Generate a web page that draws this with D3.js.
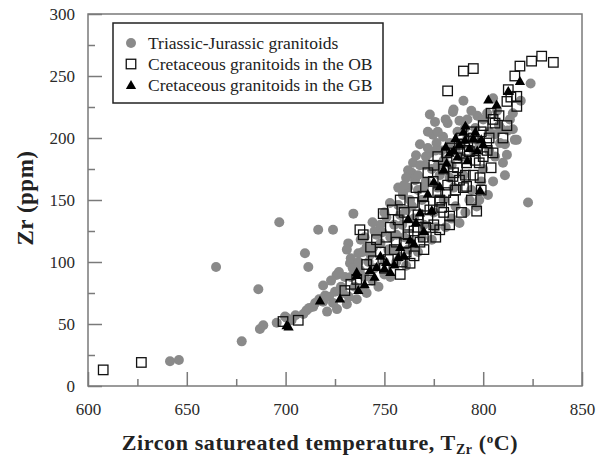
<!DOCTYPE html>
<html>
<head>
<meta charset="utf-8">
<script src="https://d3js.org/d3.v7.min.js"></script>
<style>
  body { margin: 0; background: #fff; }
  svg text { font-family: "Liberation Serif", "Times New Roman", serif; }
</style>
</head>
<body>
<div id="chart"></div>
<script>
// Zr vs zircon saturation temperature, three granitoid groups
// values: [T (°C), Zr (ppm)]

const triassicJurassic = [
  [641.5, 20], [646, 21], [664.8, 96], [677.8, 36], [686.2, 78], [687, 46], [688.7, 49],
  [695.5, 51], [696.8, 132], [699.7, 56], [700.5, 55], [703, 53], [705, 57], [709, 58],
  [710.6, 61], [712, 63], [714, 64], [715, 67], [717, 70], [719, 68], [720, 73], [722, 72],
  [719, 81], [725, 76], [725.8, 89.5], [723, 85], [728, 80], [730, 88], [732.6, 99], [734, 95],
  [709.8, 107], [711.5, 96], [716.5, 126], [724, 126], [731.7, 115], [731, 110], [736.8, 107],
  [741, 112], [734.3, 139], [737.6, 93.5], [744.4, 112], [740, 120], [745, 125], [748, 115],
  [752.8, 147.6], [759.4, 154], [763.8, 172], [758, 104], [764.5, 112], [755, 130], [750, 140],
  [762, 174], [761, 168], [765.5, 166], [764.5, 180], [770.5, 178], [759.4, 155.6], [773, 188],
  [773, 219], [784.7, 221], [775.6, 213], [782, 212], [774.6, 202.6], [779.7, 201], [776.4, 196],
  [790.8, 208], [785, 223], [768, 195], [770, 160], [778, 170], [785, 160], [788, 131.5],
  [796.7, 144.7], [793, 150], [802.4, 154], [812.5, 206], [816, 198.5], [812, 186.4], [808.5, 196],
  [809, 207.5], [813.5, 215], [815, 207], [817, 198.5], [824, 244], [822.7, 148], [810, 180],
  [805, 165], [800, 175], [795, 190], [790, 170], [780, 150], [775, 140], [770, 130], [765, 135],
  [760, 120], [755, 110], [750, 100], [745, 95], [740, 88], [735, 80], [742, 100], [748, 130],
  [727, 92], [733, 103], [738, 118], [744, 132], [751, 136], [757, 146], [762, 160], [767, 170],
  [771, 185], [776, 190], [783, 196], [787, 205], [792, 215], [797, 218], [803, 205], [807, 222],
  [811, 195], [799, 165], [794, 158], [786, 145], [781, 128], [774, 118], [767, 108], [761, 97],
  [753, 88], [747, 80], [741, 75], [736, 70], [731, 66], [726, 62], [721, 60], [753, 120],
  [758, 138], [763, 150], [769, 150], [777, 160], [784, 178], [789, 185], [798, 196], [806, 203],
  [815, 220], [819, 230], [805, 232], [790, 230], [779, 190], [772, 205], [766, 186],
  [729, 75], [733, 88], [737, 100], [739, 108], [743, 106], [746, 122], [749, 124], [752, 110],
  [756, 122], [759, 130], [761, 142], [764, 145], [767, 158], [771, 165], [774, 175], [777, 178],
  [780, 182], [783, 168], [786, 190], [789, 196], [792, 200], [796, 208], [800, 215], [803, 190],
  [757, 160], [760, 162], [768, 178], [772, 192], [777, 205], [781, 215], [788, 214], [794, 222],
  [802, 220], [808, 210], [811, 170], [806, 185], [798, 150], [791, 140], [784, 135], [776, 128],
  [769, 120], [762, 110], [756, 100], [750, 90], [744, 85], [738, 78], [732, 72], [724, 67]
];

const cretaceousOB = [
  [607.7, 13], [627, 19], [698.7, 52], [706.4, 53], [730, 77], [742.7, 85.5], [739.3, 122],
  [737.6, 126], [749.4, 139], [757, 134], [751, 120], [744.4, 101], [763, 99], [769.7, 120],
  [778, 126], [769.7, 153], [778, 149], [783, 137], [796.7, 141], [774.7, 165], [764.5, 148],
  [769.5, 153], [778, 150], [784.7, 169], [791.6, 161], [798.4, 168], [804, 176], [805, 188],
  [801.8, 196], [799, 205], [806, 212], [804, 220], [781.5, 188], [786.5, 184], [791.6, 180],
  [793, 189], [805, 215], [812, 229.5], [817, 225.5], [817, 233.6], [812.7, 239], [816, 250],
  [818.6, 258], [824.5, 262], [829.6, 266], [835.5, 261], [782, 238], [790, 254], [795, 256],
  [755, 110], [760, 115], [765, 125], [772, 135], [780, 140], [785, 150], [790, 160], [795, 170],
  [800, 185], [760, 140], [770, 145], [788, 195], [795, 200], [780, 175], [765, 105], [750, 95],
  [758, 90], [775, 130], [785, 172], [798, 180], [810, 200], [812, 210], [748, 108], [753, 128],
  [762, 128], [767, 138], [773, 142], [777, 156], [782, 162], [787, 176], [792, 190], [797, 194],
  [803, 200], [808, 218], [800, 210], [794, 205], [789, 200], [784, 192], [777, 185], [772, 172],
  [766, 160], [758, 150], [754, 142], [746, 118], [741, 98], [736, 86], [733, 82], [761, 108],
  [768, 116], [776, 120], [783, 130], [789, 140], [794, 150], [799, 158], [767, 128], [814, 233],
  [756, 116], [762, 122], [771, 128], [779, 144], [786, 158], [791, 170], [796, 182], [802, 190],
  [743, 112], [752, 102], [759, 100], [770, 110], [781, 156], [788, 166], [775, 178]
];

const cretaceousGB = [
  [700.5, 49], [701.5, 48], [717.4, 69], [727.5, 70.6], [736.8, 77.4], [736, 92], [742.7, 93.5],
  [751, 100], [758, 112], [736, 89.5], [745, 88], [750, 95], [755, 98], [748, 105], [760, 105],
  [765, 115], [770, 125], [778, 161], [781.5, 180], [790.8, 198.6], [788, 195], [793, 192],
  [785, 190], [795, 200], [790, 205], [798.4, 158], [802.6, 231], [806.8, 227], [812.7, 238],
  [818.6, 246], [775, 165], [772, 155], [762, 135], [768, 140], [780, 175], [797, 190],
  [800, 195], [783, 188], [740, 82], [746, 96], [753, 92], [757, 104], [763, 118], [787, 185],
  [792, 182], [796, 205], [799, 199], [786, 200], [781, 193], [791, 210], [766, 132], [774, 142]
];

const xTicks = [600, 650, 700, 750, 800, 850];
const yTicks = [0, 50, 100, 150, 200, 250, 300];
const xMinor = [625, 675, 725, 775, 825];
const yMinor = [25, 75, 125, 175, 225, 275];

const legendLabels = [
  'Triassic-Jurassic granitoids',
  'Cretaceous granitoids in the OB',
  'Cretaceous granitoids in the GB'
];

const width = 598, height = 458;
const margin = { top: 14, right: 16, bottom: 72, left: 88 };
const plotW = width - margin.left - margin.right;
const plotH = height - margin.top - margin.bottom;

const axisGray = '#7a7a7a';
const dotGray = '#8a8a8a';

const svg = d3.select('#chart')
  .append('svg')
  .attr('width', width)
  .attr('height', height);

const g = svg.append('g')
  .attr('transform', `translate(${margin.left}, ${margin.top})`);

const x = d3.scaleLinear().domain([600, 850]).range([0, plotW]);
const y = d3.scaleLinear().domain([0, 300]).range([plotH, 0]);

// frame
g.append('rect')
  .attr('width', plotW)
  .attr('height', plotH)
  .attr('fill', 'none')
  .attr('stroke', axisGray)
  .attr('stroke-width', 1.5);

// major ticks with labels (inward)
g.append('g')
  .attr('transform', `translate(0, ${plotH})`)
  .call(d3.axisBottom(x).tickValues(xTicks).tickSize(-14).tickPadding(17).tickFormat(d3.format('d')));
g.append('g')
  .call(d3.axisLeft(y).tickValues(yTicks).tickSize(-14).tickPadding(13).tickFormat(d3.format('d')));

// minor ticks
g.append('g')
  .attr('transform', `translate(0, ${plotH})`)
  .call(d3.axisBottom(x).tickValues(xMinor).tickSize(-7).tickFormat(''));
g.append('g')
  .call(d3.axisLeft(y).tickValues(yMinor).tickSize(-7).tickFormat(''));

g.selectAll('.domain').remove();
g.selectAll('.tick line').attr('stroke', axisGray).attr('stroke-width', 1.5);
g.selectAll('.tick text')
  .attr('fill', '#2a2a2a')
  .style('font-size', '17px');

// points: circles, then squares, then triangles on top
g.append('g').selectAll('circle')
  .data(triassicJurassic)
  .enter()
  .append('circle')
  .attr('cx', d => x(d[0]))
  .attr('cy', d => y(d[1]))
  .attr('r', 5)
  .attr('fill', dotGray);

const sq = 9.5;
g.append('g').selectAll('rect')
  .data(cretaceousOB)
  .enter()
  .append('rect')
  .attr('x', d => x(d[0]) - sq / 2)
  .attr('y', d => y(d[1]) - sq / 2)
  .attr('width', sq)
  .attr('height', sq)
  .attr('fill', 'none')
  .attr('stroke', '#111')
  .attr('stroke-width', 1.3);

const tri = d3.symbol().type(d3.symbolTriangle).size(46);
g.append('g').selectAll('path')
  .data(cretaceousGB)
  .enter()
  .append('path')
  .attr('d', tri)
  .attr('transform', d => `translate(${x(d[0])}, ${y(d[1]) + 1})`)
  .attr('fill', '#000');

// legend
const legend = svg.append('g').attr('transform', 'translate(113, 23)');
legend.append('rect')
  .attr('width', 270)
  .attr('height', 80)
  .attr('fill', '#fff')
  .attr('stroke', '#222')
  .attr('stroke-width', 1.5);

const rows = legend.selectAll('.row')
  .data(legendLabels)
  .enter()
  .append('g')
  .attr('class', 'row')
  .attr('transform', (d, i) => `translate(0, ${20 + i * 21})`);

rows.append('text')
  .attr('x', 35)
  .attr('y', 6)
  .style('font-size', '17.5px')
  .attr('fill', '#222')
  .text(d => d);

rows.filter((d, i) => i === 0).append('circle')
  .attr('cx', 18).attr('cy', 0).attr('r', 5).attr('fill', dotGray);
rows.filter((d, i) => i === 1).append('rect')
  .attr('x', 13.25).attr('y', -4.75).attr('width', sq).attr('height', sq)
  .attr('fill', 'none').attr('stroke', '#111').attr('stroke-width', 1.3);
rows.filter((d, i) => i === 2).append('path')
  .attr('d', tri).attr('transform', 'translate(18, 1)').attr('fill', '#000');

// axis titles
svg.append('text')
  .attr('transform', 'translate(33, 198) rotate(-90)')
  .attr('text-anchor', 'middle')
  .style('font-size', '23px')
  .style('font-weight', 'bold')
  .style('letter-spacing', '0.5px')
  .attr('fill', '#222')
  .text('Zr (ppm)');

const xTitle = svg.append('text')
  .attr('x', 320)
  .attr('y', 450)
  .attr('text-anchor', 'middle')
  .style('font-size', '22px')
  .style('font-weight', 'bold')
  .style('letter-spacing', '0.6px')
  .attr('fill', '#222');
xTitle.append('tspan').text('Zircon satureated temperature, T');
xTitle.append('tspan').attr('dy', 4).style('font-size', '14px').text('Zr');
xTitle.append('tspan').attr('dy', -4).text(' (');
xTitle.append('tspan').attr('dy', -7).style('font-size', '13px').text('o');
xTitle.append('tspan').attr('dy', 7).text('C)');
</script>
</body>
</html>
